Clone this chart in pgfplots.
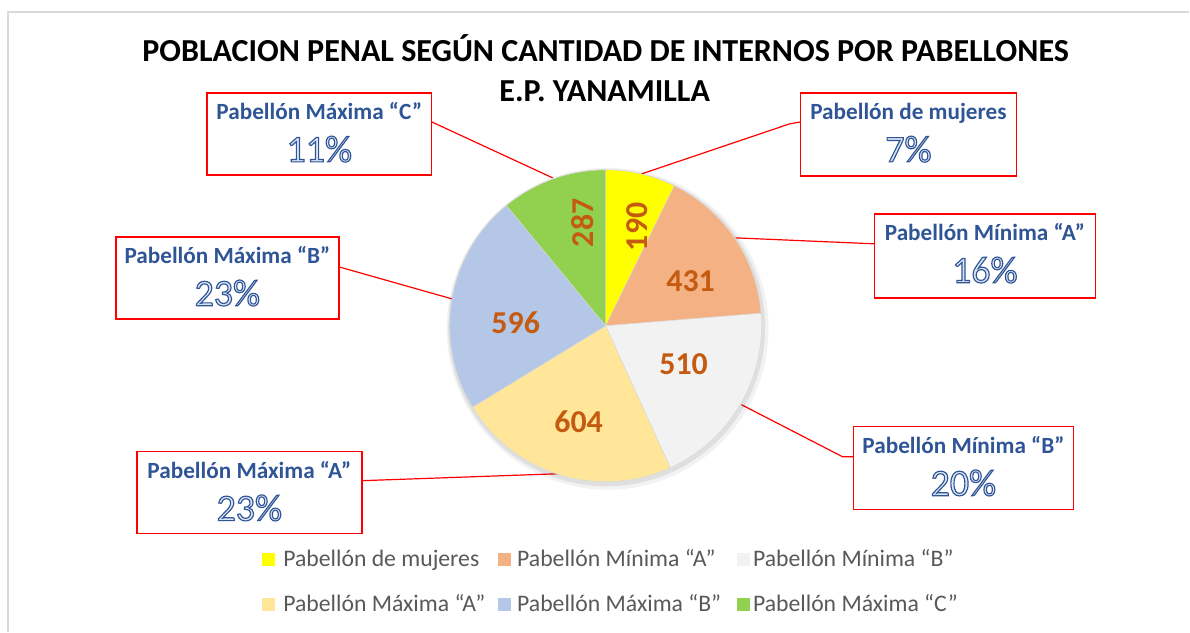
\documentclass[border=0pt]{standalone}
\usepackage{pgfplots}
\pgfplotsset{compat=1.18}
\usepackage{pgfplotstable}
\usepackage{fontspec}
\setmainfont{Carlito}

\definecolor{col0}{HTML}{FFFF00}
\definecolor{col1}{HTML}{F4B183}
\definecolor{col2}{HTML}{F2F2F2}
\definecolor{col3}{HTML}{FFE699}
\definecolor{col4}{HTML}{B4C7E7}
\definecolor{col5}{HTML}{92D050}
\definecolor{lblorange}{HTML}{C55A11}
\definecolor{boxblue}{HTML}{2F5597}
\definecolor{pctfill}{HTML}{DAE3F3}
\definecolor{legtext}{HTML}{595959}
\definecolor{framegray}{HTML}{D9D9D9}

% internos por pabellon (clockwise from 12 o'clock)
\pgfplotstableread{
id value
0 190
1 431
2 510
3 604
4 596
5 287
}\piedata

\def\pietotal{0}
\foreach \i in {0,...,5}{%
  \pgfplotstablegetelem{\i}{value}\of\piedata
  \pgfmathsetmacro\t{\pietotal+\pgfplotsretval}%
  \global\let\pietotal\t
}
\def\cum{90}
\foreach \i in {0,...,5}{%
  \pgfplotstablegetelem{\i}{value}\of\piedata
  \pgfmathsetmacro\e{\cum-(\pgfplotsretval/\pietotal)*360}%
  \expandafter\xdef\csname sa\i\endcsname{\cum}%
  \expandafter\xdef\csname ea\i\endcsname{\e}%
  \global\let\cum\e
}

\tikzset{
  boxttl/.style={font=\fontsize{23.3}{28}\selectfont\bfseries, text=boxblue, anchor=base},
  pctlbl/.style={font=\fontsize{38}{42}\selectfont, text=pctfill, anchor=base},
  datlbl/.style={font=\fontsize{32}{36}\selectfont\bfseries, text=lblorange},
  legtxt/.style={font=\fontsize{23.8}{28}\selectfont, text=legtext, anchor=base west},
  callbox/.style={draw=red, line width=1.5bp, fill=white},
  leader/.style={red, line width=1.2bp},
}

% outlined percentage (fill + stroke text render mode)
\newcommand\outl[1]{%
  \special{pdf:literal direct 2 Tr 1.15 w 0.184 0.333 0.592 RG}#1\special{pdf:literal direct 0 Tr}}

\begin{document}
\begin{tikzpicture}
\begin{axis}[
  x=1bp, y=1bp,
  xmin=0, xmax=1190, ymin=0, ymax=632,
  hide axis, clip=false,
]
\fill[white] (axis cs:0,0) rectangle (axis cs:1190,632);
\draw[framegray, line width=1.5bp] (axis cs:8,0) -- (axis cs:8,620) -- (axis cs:1190,620);

% title
\node[font=\fontsize{32.2}{38}\selectfont\bfseries, anchor=base] at (axis cs:606,570)
  {POBLACION PENAL SEGÚN CANTIDAD DE INTERNOS POR PABELLONES};
\node[font=\fontsize{32.2}{38}\selectfont\bfseries, anchor=base] at (axis cs:605,530)
  {E.P. YANAMILLA};

% leader lines
\draw[leader] (axis cs:432,510) -- (axis cs:553,454);
\draw[leader] (axis cs:801,510) -- (axis cs:790,508) -- (axis cs:642,458);
\draw[leader] (axis cs:875,388) -- (axis cs:736,394);
\draw[leader] (axis cs:854,175) -- (axis cs:843,175) -- (axis cs:742,227);
\draw[leader] (axis cs:362,151) -- (axis cs:560,158);
\draw[leader] (axis cs:339,365) -- (axis cs:452,333);

% soft shadow
\fill[black, opacity=0.05] (axis cs:608,303) circle[radius=161bp];
\fill[black, opacity=0.08] (axis cs:607,304) circle[radius=158.5bp];

% pie slices
\pgfplotsinvokeforeach{0,...,5}{%
  \edef\tmp{\noexpand\fill[col#1, draw=gray!30, line width=0.4bp]
    (axis cs:606,306) -- ++(\csname sa#1\endcsname:156bp)
    arc[start angle=\csname sa#1\endcsname, end angle=\csname ea#1\endcsname, radius=156bp] -- cycle;}%
  \tmp
}

% data labels
\node[datlbl, rotate=90] at (axis cs:638,405) {190};
\node[datlbl, rotate=90] at (axis cs:583,409) {287};
\node[datlbl] at (axis cs:691,351) {431};
\node[datlbl] at (axis cs:684,268) {510};
\node[datlbl] at (axis cs:579,210) {604};
\node[datlbl] at (axis cs:516,309) {596};

% callout boxes
\draw[callbox] (axis cs:207,457) rectangle (axis cs:432,539);
\node[boxttl] at (axis cs:319.5,512) {Pabellón Máxima “C”};
\node[pctlbl] at (axis cs:319.5,470) {\outl{11\%}};

\draw[callbox] (axis cs:801,456) rectangle (axis cs:1017,539);
\node[boxttl] at (axis cs:909,512) {Pabellón de mujeres};
\node[pctlbl] at (axis cs:909,470) {\outl{7\%}};

\draw[callbox] (axis cs:875,334) rectangle (axis cs:1096,418);
\node[boxttl] at (axis cs:985.5,391) {Pabellón Mínima “A”};
\node[pctlbl] at (axis cs:985.5,349) {\outl{16\%}};

\draw[callbox] (axis cs:854,122) rectangle (axis cs:1074,205);
\node[boxttl] at (axis cs:964,178) {Pabellón Mínima “B”};
\node[pctlbl] at (axis cs:964,136) {\outl{20\%}};

\draw[callbox] (axis cs:137,98) rectangle (axis cs:362,180);
\node[boxttl] at (axis cs:249.5,153) {Pabellón Máxima “A”};
\node[pctlbl] at (axis cs:249.5,111) {\outl{23\%}};

\draw[callbox] (axis cs:116,313) rectangle (axis cs:339,395);
\node[boxttl] at (axis cs:227.5,368) {Pabellón Máxima “B”};
\node[pctlbl] at (axis cs:227.5,326) {\outl{23\%}};

% legend
\fill[col0] (axis cs:262,66) rectangle (axis cs:275,79);
\node[legtxt] at (axis cs:280,65) {Pabellón de mujeres};
\fill[col1] (axis cs:498,66) rectangle (axis cs:511,79);
\node[legtxt] at (axis cs:514,65) {Pabellón Mínima “A”};
\fill[col2] (axis cs:737,66) rectangle (axis cs:750,79);
\node[legtxt] at (axis cs:750,65) {Pabellón Mínima “B”};
\fill[col3] (axis cs:262,21) rectangle (axis cs:275,34);
\node[legtxt] at (axis cs:280,20) {Pabellón Máxima “A”};
\fill[col4] (axis cs:498,21) rectangle (axis cs:511,34);
\node[legtxt] at (axis cs:514,20) {Pabellón Máxima “B”};
\fill[col5] (axis cs:737,21) rectangle (axis cs:750,34);
\node[legtxt] at (axis cs:750,20) {Pabellón Máxima “C”};
\end{axis}
\end{tikzpicture}
\end{document}
